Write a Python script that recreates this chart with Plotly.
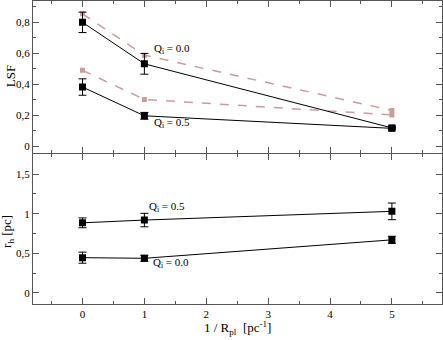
import plotly.graph_objects as go
from plotly.subplots import make_subplots

x = [0, 1, 5]

# top panel: LSF
lsf_q00 = [0.80, 0.532, 0.118]
lsf_q00_err = [0.066, 0.067, 0.008]
lsf_q05 = [0.382, 0.196, 0.115]
lsf_q05_err = [0.053, 0.022, 0.006]
lsf_ref_q00 = [0.855, 0.588, 0.231]
lsf_ref_q05 = [0.49, 0.302, 0.202]

# bottom panel: r_h
rh_q05 = [0.885, 0.92, 1.03]
rh_q05_err = [0.062, 0.085, 0.105]
rh_q00 = [0.445, 0.437, 0.67]
rh_q00_err = [0.07, 0.038, 0.045]
rh_ref = [0.94, 0.52]

black = "black"
pink = "#cc9c9c"
font = "Liberation Serif"

fig = make_subplots(rows=2, cols=1, shared_xaxes=True, vertical_spacing=0.005)


def solid(y, err, row):
    fig.add_trace(go.Scatter(
        x=x, y=y, mode="lines+markers",
        line=dict(color=black, width=1),
        marker=dict(symbol="square", size=7, color=black),
        error_y=dict(type="data", array=err, color=black, thickness=1, width=4),
        showlegend=False), row=row, col=1)


def dashed(y, row):
    fig.add_trace(go.Scatter(
        x=x, y=y, mode="lines+markers",
        line=dict(color=pink, width=1.5, dash="dash"),
        marker=dict(symbol="square", size=5, color=pink),
        showlegend=False), row=row, col=1)


dashed(lsf_ref_q00, 1)
dashed(lsf_ref_q05, 1)
solid(lsf_q00, lsf_q00_err, 1)
solid(lsf_q05, lsf_q05_err, 1)

for v in rh_ref:
    fig.add_hline(y=v, line=dict(color=pink, width=1.5, dash="dash"), row=2, col=1)
solid(rh_q05, rh_q05_err, 2)
solid(rh_q00, rh_q00_err, 2)

labels = [
    (1.45, 0.627, "y", "Q<sub>i</sub> = 0.0"),
    (1.45, 0.15, "y", "Q<sub>i</sub> = 0.5"),
    (1.36, 1.09, "y2", "Q<sub>i</sub> = 0.5"),
    (1.43, 0.38, "y2", "Q<sub>i</sub> = 0.0"),
]
for lx, ly, yref, txt in labels:
    fig.add_annotation(x=lx, y=ly, xref="x", yref=yref, text=txt, showarrow=False,
                       font=dict(family=font, size=11, color="black"))

# axis titles as annotations so the margins stay fixed
title_font = dict(family=font, size=13, color="black")
fig.add_annotation(x=0.5, y=-0.078, xref="paper", yref="paper", showarrow=False,
                   text="1 / R<sub>pl</sub>  [pc<sup>-1</sup>]", font=title_font,
                   xanchor="center", yanchor="middle")
fig.add_annotation(x=-0.055, y=0.75, xref="paper", yref="paper", showarrow=False,
                   text="LSF", textangle=-90, font=title_font,
                   xanchor="center", yanchor="middle")
fig.add_annotation(x=-0.062, y=0.24, xref="paper", yref="paper", showarrow=False,
                   text="r<sub>h</sub> [pc]", textangle=-90, font=title_font,
                   xanchor="center", yanchor="middle")

axis_style = dict(showline=True, linecolor="#555", linewidth=1, mirror="allticks",
                  ticks="inside", ticklen=6, tickcolor="#555", showgrid=False,
                  zeroline=False, automargin=False,
                  tickfont=dict(family=font, size=11, color="black"))

fig.update_xaxes(range=[-0.8, 5.81], dtick=1, tick0=0,
                 minor=dict(ticks="inside", ticklen=3, dtick=0.5, tick0=0, tickcolor="#555"),
                 **axis_style)
fig.update_xaxes(showticklabels=False, row=1, col=1)

fig.update_yaxes(range=[-0.043, 0.938], dtick=0.2, tick0=0,
                 minor=dict(ticks="inside", ticklen=3, dtick=0.1, tick0=0, tickcolor="#555"),
                 row=1, col=1, **axis_style)
fig.update_yaxes(range=[-0.14, 1.75], dtick=0.5, tick0=0,
                 minor=dict(ticks="inside", ticklen=3, dtick=0.25, tick0=0, tickcolor="#555"),
                 row=2, col=1, **axis_style)

fig.update_layout(
    width=443, height=340,
    margin=dict(l=33, r=1, t=1, b=36),
    plot_bgcolor="white", paper_bgcolor="white",
    separators=",.",
    font=dict(family=font),
)
fig.update_layout(yaxis=dict(domain=[0.499, 1]), yaxis2=dict(domain=[0, 0.494]))

# drop the default page margin so the figure sits at the window corner
fig.write_html("out.html", config={"displayModeBar": False}, post_script=(
    "document.body.style.margin='0';"
    "Plotly.relayout('{plot_id}', {width: 443, height: 340});"))
